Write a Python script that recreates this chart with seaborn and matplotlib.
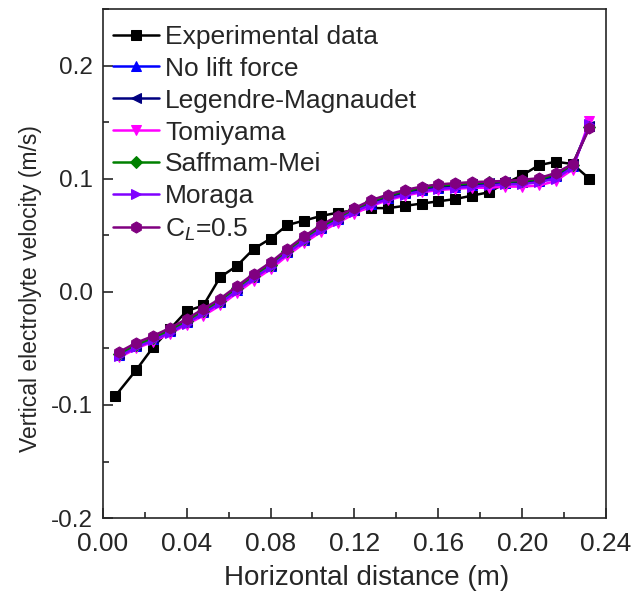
import numpy as np
import pandas as pd
import matplotlib
matplotlib.use("Agg")
import matplotlib.pyplot as plt
from matplotlib.ticker import MultipleLocator
import seaborn as sns

# horizontal positions (m)
x_exp = [0.006, 0.016, 0.024, 0.032, 0.040, 0.048, 0.056, 0.064, 0.072, 0.080,
         0.088, 0.096, 0.104, 0.112, 0.120, 0.128, 0.136, 0.144, 0.152, 0.160,
         0.168, 0.176, 0.184, 0.192, 0.200, 0.208, 0.216, 0.224, 0.232]
x_sim = [0.008, 0.016, 0.024, 0.032, 0.040, 0.048, 0.056, 0.064, 0.072, 0.080,
         0.088, 0.096, 0.104, 0.112, 0.120, 0.128, 0.136, 0.144, 0.152, 0.160,
         0.168, 0.176, 0.184, 0.192, 0.200, 0.208, 0.216, 0.224, 0.232]

experimental = [-0.092, -0.069, -0.049, -0.033, -0.017, -0.012, 0.013, 0.023, 0.038, 0.047,
                0.059, 0.063, 0.067, 0.070, 0.072, 0.074, 0.074, 0.076, 0.078, 0.080,
                0.082, 0.085, 0.088, 0.096, 0.103, 0.112, 0.115, 0.113, 0.100]
no_lift = [-0.056, -0.048, -0.042, -0.035, -0.027, -0.018, -0.009, 0.002, 0.013, 0.023,
           0.035, 0.046, 0.056, 0.064, 0.072, 0.078, 0.083, 0.087, 0.090, 0.092,
           0.093, 0.094, 0.095, 0.096, 0.097, 0.098, 0.102, 0.111, 0.147]
legendre = [-0.055, -0.047, -0.041, -0.034, -0.026, -0.017, -0.008, 0.003, 0.014, 0.024,
            0.036, 0.047, 0.057, 0.065, 0.072, 0.079, 0.084, 0.088, 0.091, 0.093,
            0.094, 0.095, 0.096, 0.097, 0.097, 0.099, 0.103, 0.112, 0.147]
tomiyama = [-0.058, -0.050, -0.044, -0.037, -0.029, -0.021, -0.012, -0.001, 0.010, 0.020,
            0.032, 0.043, 0.053, 0.061, 0.069, 0.076, 0.081, 0.085, 0.088, 0.090,
            0.091, 0.092, 0.092, 0.093, 0.093, 0.094, 0.098, 0.108, 0.151]
saffman = [-0.055, -0.047, -0.041, -0.034, -0.026, -0.017, -0.008, 0.003, 0.014, 0.024,
           0.036, 0.047, 0.057, 0.065, 0.073, 0.080, 0.085, 0.089, 0.092, 0.094,
           0.095, 0.096, 0.097, 0.0975, 0.098, 0.0995, 0.104, 0.112, 0.146]
moraga = [-0.057, -0.049, -0.043, -0.036, -0.028, -0.019, -0.010, 0.001, 0.012, 0.022,
          0.034, 0.045, 0.055, 0.063, 0.071, 0.077, 0.082, 0.086, 0.089, 0.091,
          0.092, 0.093, 0.094, 0.095, 0.095, 0.097, 0.100, 0.110, 0.148]
cl_05 = [-0.053, -0.045, -0.039, -0.032, -0.024, -0.015, -0.006, 0.005, 0.016, 0.026,
         0.038, 0.049, 0.059, 0.067, 0.074, 0.081, 0.086, 0.090, 0.093, 0.095,
         0.096, 0.097, 0.0975, 0.098, 0.099, 0.1005, 0.105, 0.113, 0.1445]

series = [
    ("Experimental data", x_exp, experimental, "black", "s", 7),
    ("No lift force", x_sim, no_lift, "#0000ff", "^", 7),
    ("Legendre-Magnaudet", x_sim, legendre, "#000080", "<", 7),
    ("Tomiyama", x_sim, tomiyama, "#ff00ff", "v", 7),
    ("Saffmam-Mei", x_sim, saffman, "#008000", "D", 6),
    ("Moraga", x_sim, moraga, "#8000ff", ">", 7),
    (r"C$_{\mathit{L}}$=0.5", x_sim, cl_05, "#800080", "h", 8),
]

sns.set_style("ticks")
plt.rcParams["font.family"] = ["Liberation Sans", "DejaVu Sans"]
plt.rcParams["mathtext.fontset"] = "custom"
plt.rcParams["mathtext.rm"] = "Liberation Sans"
plt.rcParams["mathtext.it"] = "Liberation Sans:italic"

fig = plt.figure(figsize=(6.34, 5.99), dpi=100)
ax = fig.add_axes([0.162, 0.135, 0.794, 0.85])

for label, xs, ys, color, marker, ms in series:
    df = pd.DataFrame({"x": xs, "y": ys})
    sns.lineplot(data=df, x="x", y="y", ax=ax, color=color, marker=marker,
                 markersize=ms, markeredgecolor=color, linewidth=1.8, label=label)

ax.set_xlim(0, 0.24)
ax.set_ylim(-0.2, 0.25)
ax.xaxis.set_major_locator(MultipleLocator(0.04))
ax.xaxis.set_minor_locator(MultipleLocator(0.02))
ax.yaxis.set_major_locator(MultipleLocator(0.1))
ax.yaxis.set_minor_locator(MultipleLocator(0.05))
ax.xaxis.set_major_formatter(plt.FormatStrFormatter("%.2f"))
ax.yaxis.set_major_formatter(plt.FormatStrFormatter("%.1f"))
ax.tick_params(which="both", direction="in", top=False, right=False, width=1.2)
ax.tick_params(which="major", length=7)
ax.tick_params(which="minor", length=4)
ax.tick_params(axis="x", labelsize=19, pad=10)
ax.tick_params(axis="y", labelsize=17.5, pad=7)
for sp in ax.spines.values():
    sp.set_linewidth(1.2)

ax.set_xlabel("Horizontal distance (m)", fontsize=20)
ax.set_ylabel("Vertical electrolyte velocity (m/s)", fontsize=16.5)
ax.xaxis.set_label_coords(0.525, -0.093)
ax.yaxis.set_label_coords(-0.12, 0.45)

ax.legend(loc="upper left", frameon=False, fontsize=19, handlelength=1.75,
          labelspacing=0.3, handletextpad=0.25, borderaxespad=0.2,
          bbox_to_anchor=(-0.012, 1.0))

fig.savefig("out.png", dpi=100)
